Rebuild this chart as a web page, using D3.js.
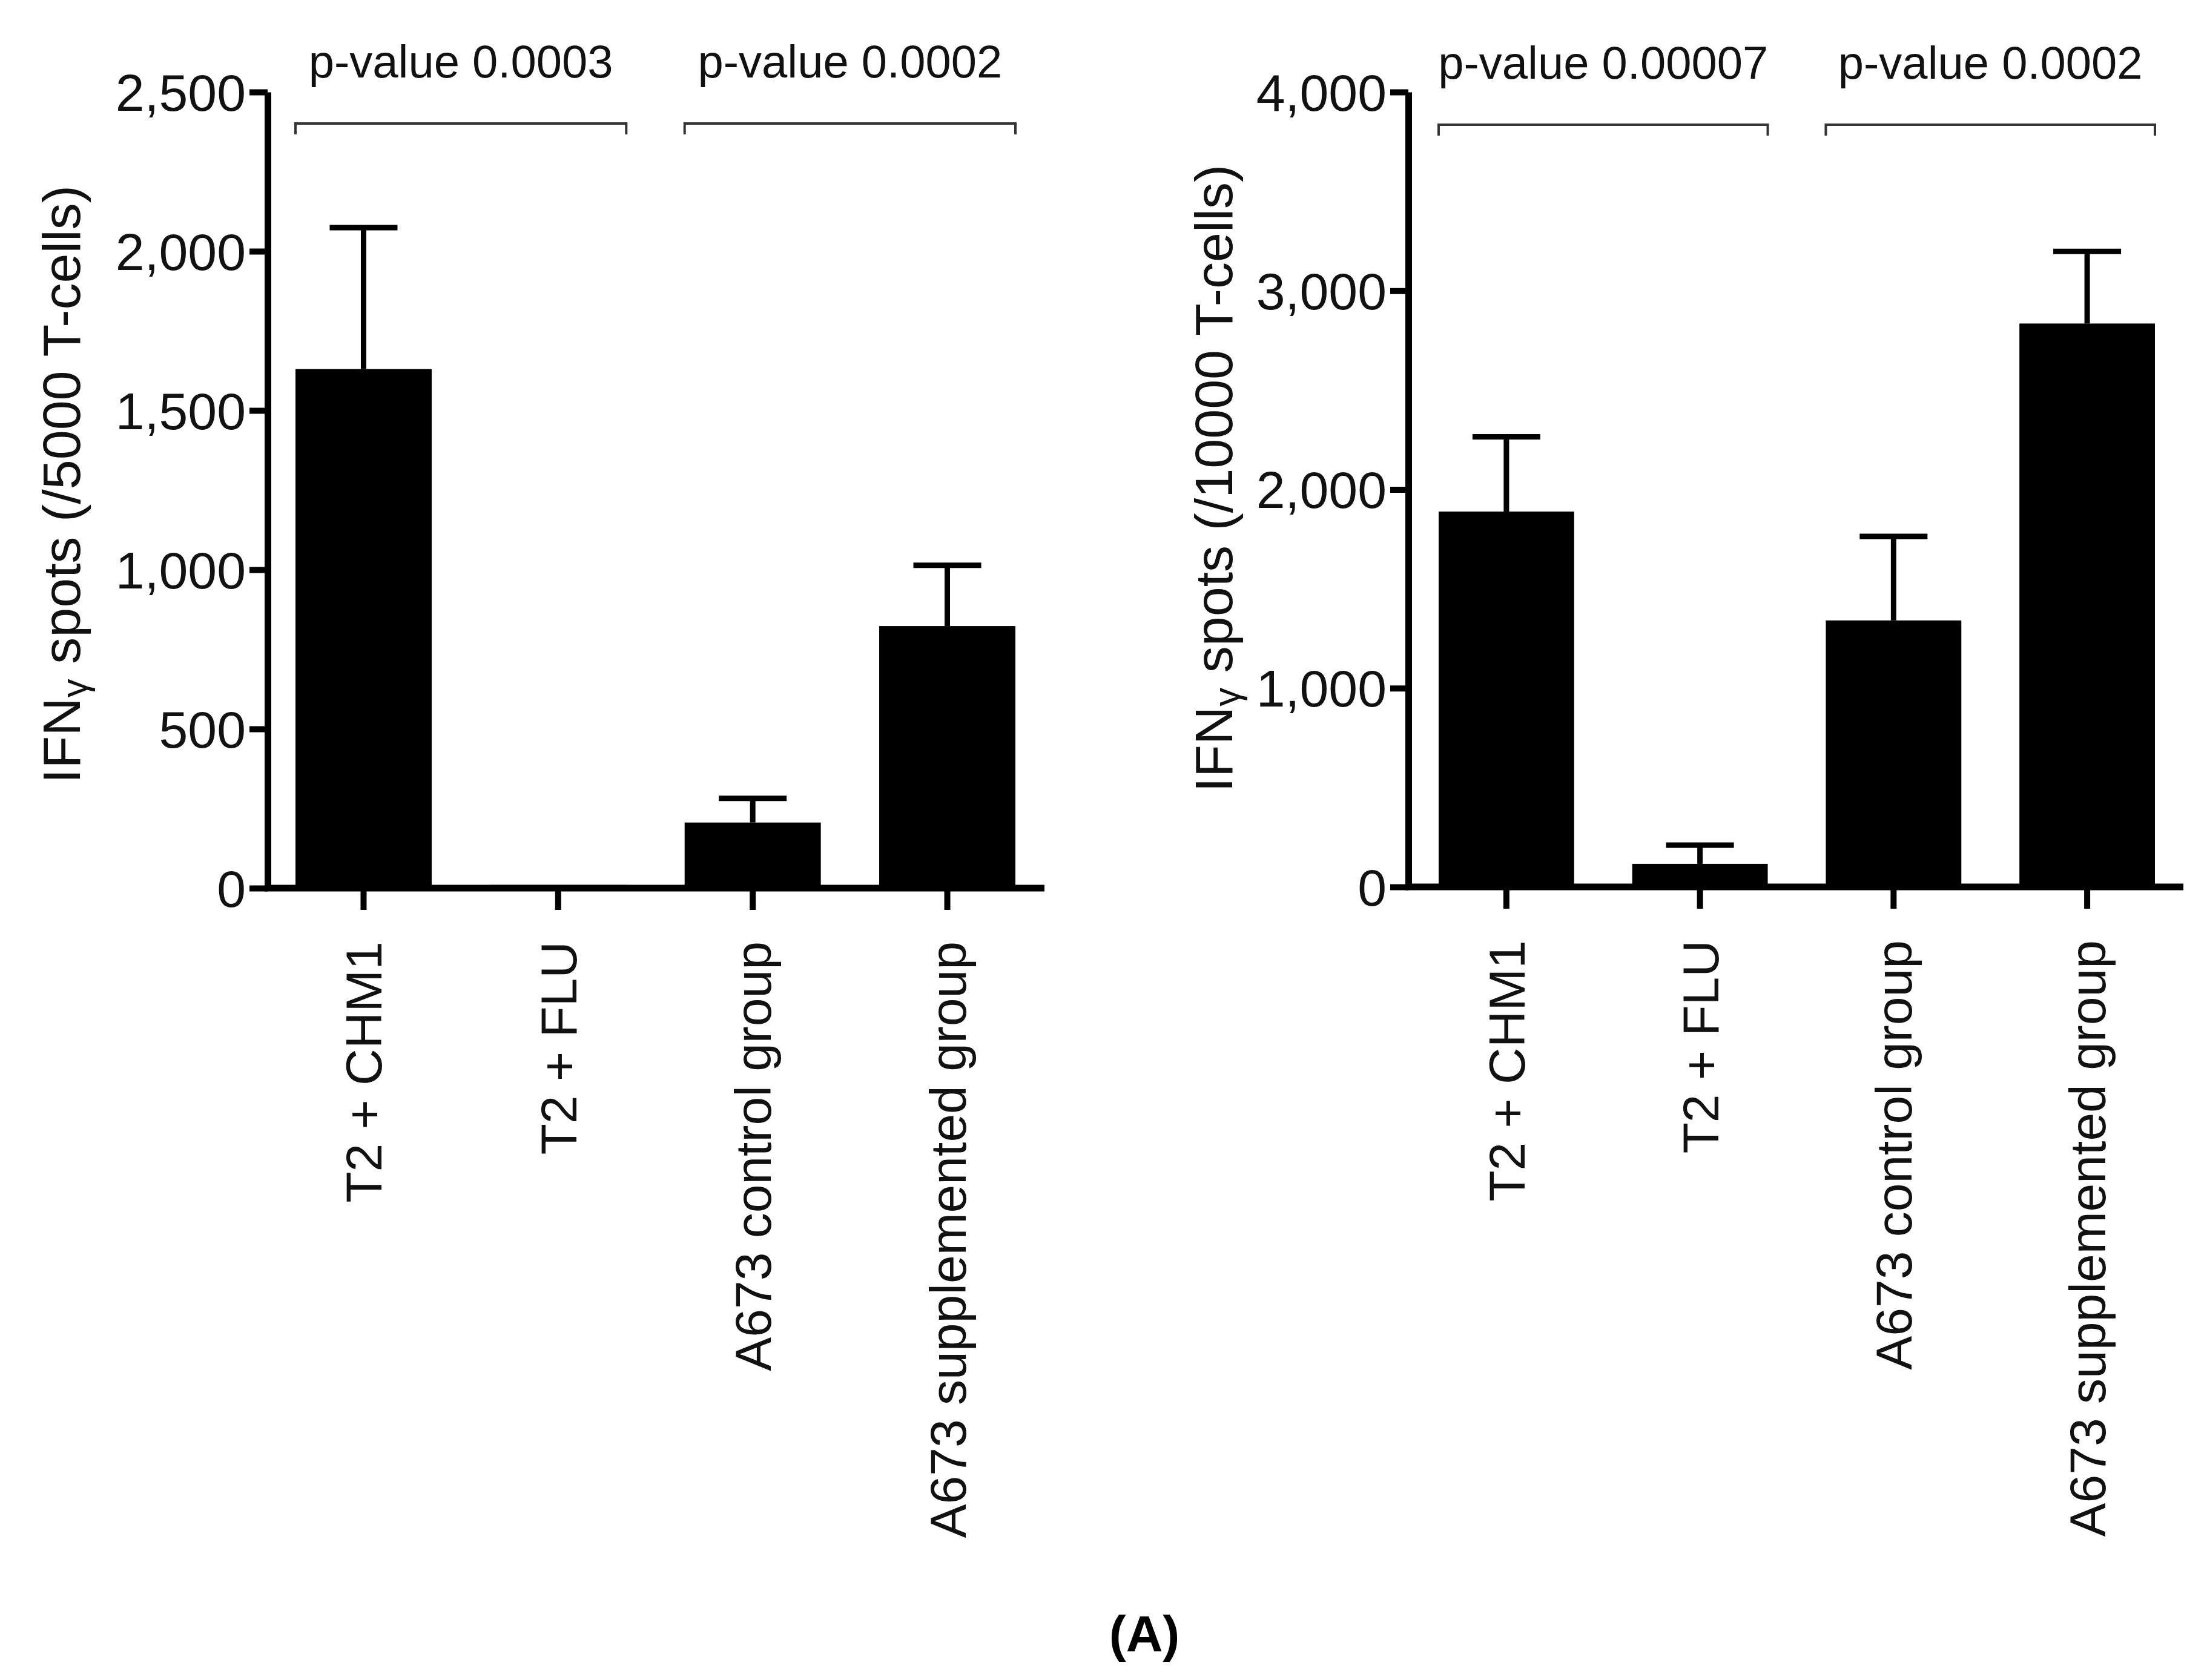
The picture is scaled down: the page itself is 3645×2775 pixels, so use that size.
<!DOCTYPE html>
<html><head><meta charset="utf-8">
<script src="https://cdn.jsdelivr.net/npm/d3@7"></script>
<style>body{margin:0;background:#fff}svg{display:block}text{font-family:"Liberation Sans",Arial,sans-serif}</style>
</head><body><svg id="c" width="3645" height="2775"></svg>
<script>
const categories = ["T2 + CHM1","T2 + FLU","A673 control group","A673 supplemented group"];
const leftValues = [1630, 10, 206, 823];
const leftErrors = [2074, 10, 282, 1014];
const leftTicks = [0,500,1000,1500,2000,2500];
const rightValues = [1889, 116, 1341, 2835];
const rightErrors = [2265, 210, 1764, 3198];
const rightTicks = [0,1000,2000,3000,4000];
const leftPvals = ["p-value 0.0003","p-value 0.0002"];
const rightPvals = ["p-value 0.00007","p-value 0.0002"];

const svg = d3.select("#c");
function panel(o){
  const g = svg.append("g");
  const y = d3.scaleLinear().domain([0,o.max]).range([o.y0,o.y1]);
  const x = d3.scaleBand().domain(categories).range([o.xa+ o.pad, o.xe]).paddingInner(0.3).paddingOuter(0.0);
  // bars
  g.selectAll("rect.b").data(o.vals).enter().append("rect")
    .attr("x",(d,i)=>x(categories[i])).attr("width",x.bandwidth())
    .attr("y",d=>y(d)).attr("height",d=>Math.max(0,y(0)-y(d))).attr("fill","#000");
  // error bars
  o.errs.forEach((e,i)=>{
    if(e<=o.vals[i]) return;
    const cx = x(categories[i])+x.bandwidth()/2;
    g.append("line").attr("x1",cx).attr("x2",cx).attr("y1",y(o.vals[i])).attr("y2",y(e)).attr("stroke","#000").attr("stroke-width",9);
    g.append("line").attr("x1",cx-56).attr("x2",cx+56).attr("y1",y(e)).attr("y2",y(e)).attr("stroke","#000").attr("stroke-width",9);
  });
  // y axis
  const ya = g.append("g").attr("transform",`translate(${o.xa},0)`)
    .call(d3.axisLeft(y).tickValues(o.ticks).tickSize(30).tickPadding(6).tickSizeOuter(0));
  ya.select(".domain").attr("stroke-width",11);
  ya.selectAll(".tick line").attr("stroke-width",10);
  ya.selectAll("text").attr("font-size",86).attr("fill","#111").attr("dy","0.35em");
  // x axis
  const xa = g.append("g").attr("transform",`translate(0,${o.y0})`)
    .call(d3.axisBottom(x).tickSize(36).tickSizeOuter(0).tickFormat(""));
  xa.select(".domain").attr("d",`M${o.xa-5},0H${o.xend}`).attr("stroke-width",11);
  xa.selectAll(".tick line").attr("stroke-width",10);
  categories.forEach(c=>{
    const cx = x(c)+x.bandwidth()/2;
    g.append("text").attr("transform",`translate(${cx+30},${o.y0+88}) rotate(-90)`)
      .attr("text-anchor","end").attr("font-size",84).attr("fill","#111").text(c);
  });
  // y title
  const t = g.append("text").attr("transform",`translate(${o.tx},${o.ty}) rotate(-90)`)
    .attr("text-anchor","middle").attr("font-size",88).attr("fill","#111");
  t.append("tspan").text("IFN");
  t.append("tspan").attr("font-size",62).attr("dy",12).text("γ");
  t.append("tspan").attr("dy",-12).text(" spots " + o.unit);
  // brackets
  [[0,1],[2,3]].forEach((p,k)=>{
    const a = x(categories[p[0]]), b = x(categories[p[1]])+x.bandwidth();
    g.append("path").attr("d",`M${a},${o.by+18}V${o.by}H${b}V${o.by+18}`)
      .attr("fill","none").attr("stroke","#333").attr("stroke-width",4);
    g.append("text").attr("x",(a+b)/2).attr("y",o.by-76).attr("text-anchor","middle")
      .attr("font-size",76).attr("fill","#111").text(o.pv[k]);
  });
}
panel({max:2500,y0:1467,y1:152,xa:442,pad:46,xe:1677,xend:1725,vals:leftValues,errs:leftErrors,ticks:leftTicks,tx:132,ty:800,unit:"(/5000 T-cells)",by:204,pv:leftPvals});
panel({max:4000,y0:1465,y1:152,xa:2326,pad:50,xe:3559,xend:3606,vals:rightValues,errs:rightErrors,ticks:rightTicks,tx:2035,ty:790,unit:"(/10000 T-cells)",by:206,pv:rightPvals});
svg.append("text").attr("x",1890).attr("y",2728).attr("text-anchor","middle")
  .attr("font-family","Liberation Serif").attr("font-weight","bold").attr("font-size",84).text("(A)");
</script></body></html>
